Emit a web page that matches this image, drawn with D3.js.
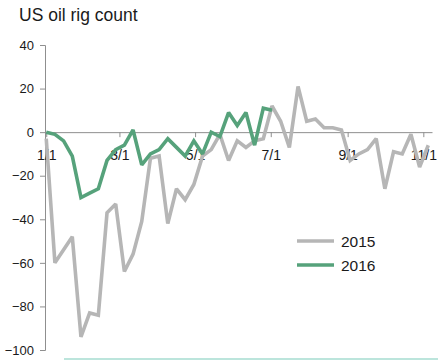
<!DOCTYPE html>
<html>
<head>
<meta charset="utf-8">
<script src="https://cdn.jsdelivr.net/npm/d3@7"></script>
<style>
  html, body { margin: 0; padding: 0; background: #fff; }
  svg { display: block; font-family: "Liberation Sans", Arial, sans-serif; }
</style>
</head>
<body>
<svg id="chart" width="438" height="360"></svg>
<script>
// Weekly change in the number of US oil rigs, by week of the year
const title = "US oil rig count";
const seriesNames = ["2015", "2016"];
const seriesColors = ["#b6b6b6", "#56a27b"];

const rigs2015 = [-3, -60, -54, -48, -94, -83, -84, -37, -33, -64, -56, -41, -12, -11, -42, -26,
                  -31, -24, -11, -8, -1, -13, -4, -7, -4, -3, 12, 5, -7, 21, 5, 6, 2, 2, 1,
                  -13, -10, -8, -3, -26, -9, -10, -1, -16, -6];
const rigs2016 = [0, -1, -4, -11, -30, -28, -26, -13, -8, -6, 1, -15, -10, -8, -3, -7, -11, -4,
                  -10, 0, -2, 9, 3, 9, -6, 11, 10];

const yTicks = [40, 20, 0, -20, -40, -60, -80, -100];
const xTickMonths = [0, 2, 4, 6, 8, 10];   // Jan, Mar, May, Jul, Sep, Nov

const svg = d3.select("#chart");

// both years share one month/day axis
const yearStart = new Date(2015, 0, 1);
const weekDate = i => d3.timeDay.offset(yearStart, 7 * i);

const x = d3.scaleTime()
  .domain([new Date(2014, 11, 31), new Date(2015, 10, 8)])
  .range([45, 432]);
const y = d3.scaleLinear().domain([-100, 40]).range([350, 45]);

// title
svg.append("text")
  .attr("x", 19).attr("y", 21)
  .attr("font-size", 17.5).attr("fill", "#1a1a1a")
  .text(title);

// y axis
const yAxis = d3.axisLeft(y).tickValues(yTicks).tickSize(5).tickPadding(6).tickFormat(d3.format("d"));
const gy = svg.append("g").attr("transform", `translate(${x.range()[0]},0)`).call(yAxis);
gy.select(".domain").attr("stroke", "#8f8f8f");
gy.selectAll(".tick line").attr("stroke", "#8f8f8f");
gy.selectAll(".tick text").attr("font-size", 13).attr("fill", "#1a1a1a")
  .attr("font-family", "Liberation Sans, Arial, sans-serif");

// x axis along the zero line
const xTicks = xTickMonths.map(m => new Date(2015, m, 1));
const xAxis = d3.axisBottom(x).tickValues(xTicks).tickSize(5).tickPadding(13)
  .tickFormat(d3.timeFormat("%-m/%-d")).tickSizeOuter(0);
const gx = svg.append("g").attr("transform", `translate(0,${y(0)})`).call(xAxis);
gx.select(".domain").attr("stroke", "#8f8f8f");
gx.selectAll(".tick line").attr("stroke", "#8f8f8f");
gx.selectAll(".tick text").attr("font-size", 14).attr("fill", "#1a1a1a")
  .attr("font-family", "Liberation Sans, Arial, sans-serif");

// series lines
const line = d3.line()
  .x((d, i) => x(weekDate(i)))
  .y(d => y(d));

[rigs2015, rigs2016].forEach((vals, s) => {
  svg.append("path")
    .datum(vals)
    .attr("fill", "none")
    .attr("stroke", seriesColors[s])
    .attr("stroke-width", 3.6)
    .attr("stroke-linejoin", "miter")
    .attr("stroke-miterlimit", 2)
    .attr("d", line);
});

// legend
const legend = svg.append("g").attr("transform", "translate(297,241)");
seriesNames.forEach((name, i) => {
  const row = legend.append("g").attr("transform", `translate(0,${i * 24})`);
  row.append("line").attr("x1", 0).attr("x2", 37).attr("y1", 0).attr("y2", 0)
    .attr("stroke", seriesColors[i]).attr("stroke-width", 3.6);
  row.append("text").attr("x", 44).attr("y", 0).attr("dy", "0.36em")
    .attr("font-size", 15.5).attr("fill", "#1a1a1a").text(name);
});

// thin rule along the bottom edge
svg.append("line")
  .attr("x1", 64).attr("x2", 438).attr("y1", 359).attr("y2", 359)
  .attr("stroke", "#a6ddd0").attr("stroke-width", 1.5);
</script>
</body>
</html>
